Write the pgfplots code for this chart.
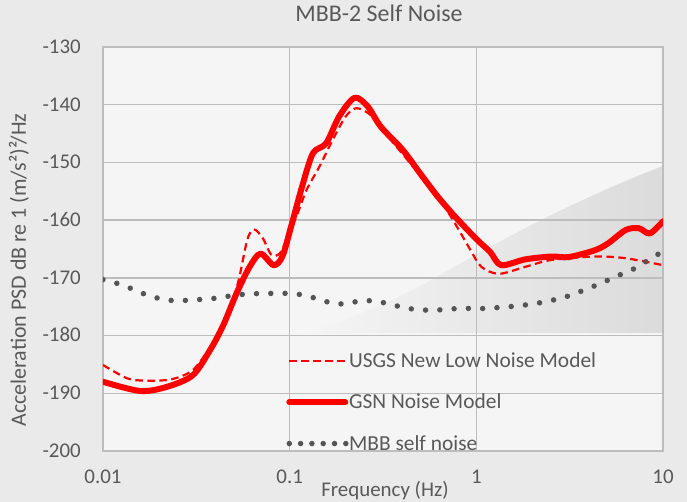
\documentclass[border=0pt]{standalone}
\usepackage{fontspec}
\setmainfont{Carlito}
\usepackage{pgfplots}
\pgfplotsset{compat=1.18}
\usetikzlibrary{fadings}
\definecolor{txt}{HTML}{595959}
\definecolor{gridc}{HTML}{BDBDBD}
\definecolor{dotc}{HTML}{555555}
\definecolor{bgc}{HTML}{EAEAEA}
\definecolor{plotbg}{HTML}{F5F5F5}
\definecolor{redc}{HTML}{FF0000}

\begin{document}
\begin{tikzpicture}
\fill[bgc] (-103bp,-51bp) rectangle (584bp,451bp);
\fill[plotbg] (0bp,0bp) rectangle (560bp,404bp);
\begin{scope}
\clip (0bp,0bp) rectangle (560bp,404bp);
\fill[black, opacity=0.10, path fading=west] (200bp,118bp) -- (560bp,118bp) -- (560bp,285bp)
  .. controls (500bp,262bp) and (420bp,225bp) .. (334bp,174bp)
  .. controls (290bp,150bp) and (240bp,128bp) .. (200bp,118bp) -- cycle;
\end{scope}
\begin{axis}[
  at={(0,0)}, anchor=south west,
  scale only axis, width=560bp, height=404bp,
  xmode=log, xmin=0.01, xmax=10, ymin=-200, ymax=-130,
  xtick={0.01,0.1,1,10}, xticklabels={0.01,0.1,1,10},
  ytick={-200,-190,-180,-170,-160,-150,-140,-130},
  yticklabels={-200,-190,-180,-170,-160,-150,-140,-130},
  minor xtick={},
  tick style={draw=none},
  grid=major, grid style={gridc, line width=1.3bp},
  axis line style={gridc, line width=1.3bp},
  xticklabel style={font=\fontsize{21}{25}\selectfont, text=txt, inner sep=0pt, anchor=base, yshift=-32.5bp},
  yticklabel style={font=\fontsize{21}{25}\selectfont, text=txt, inner sep=0pt, anchor=base east, xshift=-22bp, yshift=-6.3bp},
  title={MBB-2 Self Noise},
  title style={font=\fontsize{24}{28}\selectfont, text=txt, inner sep=0pt, at={(axis description cs:0.5,1)}, anchor=base, yshift=20bp, xshift=-4bp},
  xlabel={Frequency (Hz)},
  xlabel style={font=\fontsize{21}{25}\selectfont, text=txt, inner sep=0pt, at={(axis description cs:0.5,0)}, anchor=base, yshift=-45bp, xshift=2bp},
  ylabel={Acceleration PSD dB re 1 (m/s²)²/Hz},
  ylabel style={font=\fontsize{22}{26}\selectfont, text=txt, inner sep=0pt, at={(axis description cs:-0.15,0.448)}, anchor=center, rotate=0},
  legend style={at={(axis description cs:0.327,0.244)}, anchor=north west, draw=none, fill=none, inner sep=0pt,
    font=\fontsize{21.5}{25}\selectfont, text=txt, row sep=25bp,
    nodes={inner sep=0pt},
    /tikz/every even column/.append style={column sep=15bp}},
  legend cell align=left,
  legend image code/.code={\draw[#1] (0bp,0bp) -- (56bp,0bp);},
]
\addplot[redc, line width=2.2bp, dash pattern=on 7.5bp off 4.5bp, smooth] coordinates {
(0.01,-185.1) (0.01345,-187.4) (0.0167,-187.8) (0.0231,-187.6) (0.0302,-186.0)
(0.0375,-182.0) (0.0466,-176.7) (0.0533,-170.4) (0.0593,-163.4) (0.0644,-161.6)
(0.0717,-163.1) (0.0798,-166.0) (0.0889,-165.7) (0.0991,-162.3) (0.1104,-158.8)
(0.1230,-154.8) (0.1445,-150.7) (0.1699,-146.1) (0.2000,-142.0) (0.2287,-140.6)
(0.2762,-142.0) (0.3614,-146.7) (0.4739,-151.3) (0.6207,-155.9) (0.770,-160.6)
(0.9311,-165.2) (1.065,-168.1) (1.321,-169.3) (1.827,-168.1) (2.52,-166.9)
(4.33,-166.3) (6.32,-166.6) (10,-167.8)
};
\addlegendentry{USGS New Low Noise Model}
\addplot[redc, line width=6bp, smooth, line join=round, line cap=round] coordinates {
(0.01,-188.0) (0.0158,-189.6) (0.0219,-188.9) (0.0302,-186.9) (0.0375,-182.5)
(0.0441,-178.2) (0.0519,-172.7) (0.0610,-168.1) (0.0698,-165.8) (0.0820,-167.8)
(0.0914,-166.3) (0.1018,-161.1) (0.1165,-154.2) (0.1333,-148.4) (0.1567,-146.7)
(0.1844,-142.0) (0.2228,-138.8) (0.2618,-140.3) (0.3076,-143.8) (0.4027,-147.8)
(0.500,-151.9) (0.6207,-155.9) (0.770,-159.4) (1.009,-163.4) (1.186,-165.5)
(1.358,-167.8) (1.827,-166.8) (2.52,-166.3) (3.13,-166.4) (4.33,-165.2)
(5.09,-164.0) (6.32,-161.7) (7.43,-161.4) (8.51,-162.3) (10,-160.2)
};
\addlegendentry{GSN Noise Model}
\addplot[dotc, line width=5.5bp, line cap=round, dash pattern=on 0bp off 14.3bp, smooth,
  legend image code/.code={\draw[dotc, line width=5.5bp, line cap=round, dash pattern=on 0bp off 11.3bp] (0bp,0bp) -- (57bp,0bp);}] coordinates {
(0.01,-170.3) (0.01261,-171.2) (0.01499,-172.2) (0.01762,-173.1) (0.02094,-173.7)
(0.02502,-174.0) (0.02990,-173.8) (0.03556,-173.7) (0.04295,-173.4) (0.05050,-173.0)
(0.06031,-172.8) (0.07166,-172.7) (0.08511,-172.7) (0.1000,-172.7) (0.1196,-173.0)
(0.1429,-173.7) (0.1698,-174.4) (0.1999,-174.5) (0.2376,-174.0) (0.2838,-174.0)
(0.3390,-174.5) (0.4027,-175.1) (0.4786,-175.5) (0.5723,-175.6) (0.6730,-175.5)
(0.8043,-175.3) (0.9552,-175.3) (1.135,-175.3) (1.358,-175.1) (1.623,-174.9)
(1.928,-174.6) (2.291,-174.2) (2.692,-173.7) (3.218,-173.0) (3.784,-172.1)
(4.447,-171.2) (5.233,-170.2) (6.149,-169.2) (7.228,-168.2) (8.356,-166.9) (10,-165.4)
};
\addlegendentry{MBB self noise}
\end{axis}
\pgfresetboundingbox
\path[use as bounding box] (-103bp,-51bp) rectangle (584bp,451bp);
\end{tikzpicture}
\end{document}
